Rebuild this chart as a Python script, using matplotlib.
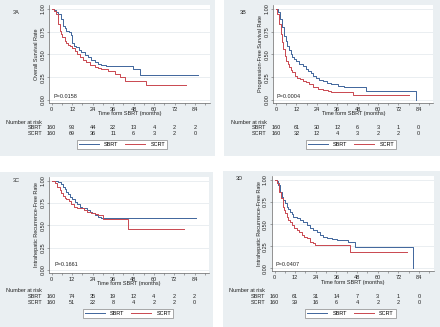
import matplotlib
matplotlib.use('Agg')
import matplotlib.pyplot as plt
from matplotlib.lines import Line2D
from matplotlib.patches import Rectangle
from matplotlib.ticker import MultipleLocator
from matplotlib.transforms import blended_transform_factory

plt.rcParams['font.family'] = ['Liberation Sans', 'DejaVu Sans']

# Kaplan-Meier curves (months, survival proportion)
# 3A overall survival
a_sbrt_t = [0, 1.5, 2.5, 3.7, 5.3, 6.6, 7.6, 8.6, 9.9, 11.1, 11.9, 13.1, 14.4, 15.8, 17.4,
            19.3, 21.3, 23.2, 25.2, 27.1, 29.1, 32.0, 35.0, 47.6, 51.5, 85.7]
a_sbrt_s = [1, .985, .965, .945, .89, .817, .79, .762, .744, .718, .623, .597, .579, .553, .531,
            .498, .469, .44, .414, .396, .385, .375, .37, .341, .278, .278]
a_scrt_t = [0, 1.5, 2.7, 3.7, 4.7, 5.3, 6.0, 6.6, 7.6, 8.6, 9.6, 10.5, 11.9, 13.5, 15.0, 16.4,
            18.3, 20.3, 22.2, 25.2, 27.1, 29.1, 33.0, 36.9, 39.8, 42.8, 55.4, 78.5]
a_scrt_s = [1, .98, .945, .835, .762, .725, .696, .689, .652, .623, .608, .597, .571, .542, .505, .469,
            .443, .414, .388, .359, .348, .341, .322, .286, .249, .205, .168, .168]

# 3B progression-free survival
b_sbrt_t = [0, 1.4, 2.4, 3.4, 3.7, 4.7, 5.7, 6.7, 7.7, 8.7, 9.7, 10.7, 12.0, 13.6, 15.6, 17.6,
            19.1, 20.5, 21.9, 23.5, 25.4, 27.4, 29.8, 32.3, 36.3, 40.2, 44.2, 53.1, 82.6]
b_sbrt_s = [1, .963, .89, .817, .799, .707, .652, .597, .549, .505, .476, .451, .425, .396, .37, .341,
            .322, .297, .267, .242, .223, .205, .19, .176, .158, .147, .139, .095, 0.0]
b_scrt_t = [0, 0.8, 1.8, 2.8, 3.7, 4.3, 5.1, 6.1, 6.9, 7.7, 8.7, 9.7, 11.0, 12.6, 14.0, 15.6,
            17.6, 19.5, 21.9, 24.5, 27.4, 30.4, 32.3, 45.2, 78.3]
b_scrt_s = [1, .945, .835, .725, .634, .56, .487, .432, .396, .359, .33, .304, .267, .242, .227, .212,
            .194, .176, .147, .121, .11, .095, .084, .059, .059]

# 3C intrahepatic recurrence-free
c_sbrt_t = [0, 1.7, 3.7, 5.3, 6.6, 7.6, 8.6, 9.6, 10.6, 11.9, 13.5, 15.1, 16.4, 17.8, 19.4, 20.9,
            22.3, 23.7, 25.3, 27.2, 29.2, 84.7]
c_sbrt_s = [1, .993, .981, .959, .933, .907, .877, .851, .822, .796, .766, .736, .71, .699, .691, .673,
            .654, .636, .617, .599, .58, .58]
c_scrt_t = [0, 2.1, 3.3, 4.7, 5.7, 6.6, 7.6, 8.6, 10.0, 11.5, 13.1, 15.1, 17.0, 19.0, 20.9, 22.9,
            25.3, 27.2, 30.2, 44.9, 78.0]
c_scrt_s = [1, .97, .933, .896, .859, .833, .81, .796, .773, .736, .71, .699, .691, .673, .654, .636,
            .625, .617, .572, .461, .461]

# 3D
d_sbrt_t = [0, 1.3, 2.2, 3.2, 4.2, 5.1, 6.1, 7.1, 8.0, 9.0, 10.0, 10.9, 12.9, 14.8, 16.8, 18.7,
            20.6, 22.6, 24.5, 26.5, 28.4, 30.3, 33.2, 36.1, 42.9, 46.8, 80.7]
d_sbrt_s = [1, .989, .943, .868, .811, .774, .736, .698, .672, .642, .611, .585, .574, .547, .521, .491,
            .46, .434, .408, .377, .355, .34, .328, .321, .302, .245, 0.0]
d_scrt_t = [0, 1.6, 2.8, 3.8, 4.7, 5.5, 6.1, 7.1, 8.0, 9.0, 10.0, 11.3, 12.9, 14.4, 15.8, 17.2,
            18.7, 20.6, 22.2, 23.5, 43.9, 76.8]
d_scrt_s = [1, .962, .868, .792, .698, .66, .623, .585, .547, .521, .491, .46, .434, .408, .377, .358,
            .34, .302, .283, .264, .189, .189]

# number at risk (at 0, 12, ..., 84 months)
risk_times = [0, 12, 24, 36, 48, 60, 72, 84]
a_risk_sbrt = [160, 93, 44, 22, 13, 4, 2, 2]
a_risk_scrt = [160, 69, 36, 11, 6, 3, 2, 0]
b_risk_sbrt = [160, 61, 30, 12, 6, 3, 1, 0]
b_risk_scrt = [160, 32, 12, 4, 3, 2, 2, 0]
c_risk_sbrt = [160, 74, 35, 19, 12, 4, 2, 2]
c_risk_scrt = [160, 51, 22, 8, 4, 2, 2, 0]
d_risk_sbrt = [160, 61, 31, 14, 7, 3, 1, 0]
d_risk_scrt = [160, 39, 16, 6, 4, 2, 2, 0]

tags = ['3A', '3B', '3C', '3D']
ylabels = ['Overall Survival Rate', 'Progression-Free Survival Rate',
           'Intrahepatic Recurrence-Free Rate', 'Intrahepatic Recurrence-Free Rate']
pvalues = ['P=0.0158', 'P=0.0004', 'P=0.1661', 'P=0.0407']
groups = ['SBRT', 'SCRT']

BLUE = '#3f659b'
RED = '#c9474f'
BG = '#eaeff2'
W, H = 440, 327

fig = plt.figure(figsize=(W / 100, H / 100), dpi=100, facecolor='white')


def fx(px):
    return px / W


def fy(py):
    return 1 - py / H


# layout in pixels: panel box, x of month 0, px per month, y of 1.0, px per unit,
# tag pos, pval pos, risk rows y, legend centre
panels = [
    dict(box=(0, 0, 215, 156), x0=51.7, sx=1.706, y1=9, sy=91, tag=(13, 13), pv=(1.3, 0.036),
         rows=(122.3, 127.7, 133.8), leg=(122, 144.5)),
    dict(box=(224, 0, 440, 156), x0=276, sx=1.70, y1=9, sy=91, tag=(240, 13), pv=(0.2, 0.036),
         rows=(122.3, 127.7, 133.8), leg=(351, 144.5)),
    dict(box=(0, 172, 213, 327), x0=51.7, sx=1.70, y1=180.7, sy=89.3, tag=(13, 180), pv=(1.8, 0.056),
         rows=(290.7, 296.3, 302.3), leg=(128, 313.5)),
    dict(box=(223, 171, 440, 327), x0=274.5, sx=1.72, y1=180, sy=88.3, tag=(236, 179), pv=(0.3, 0.04),
         rows=(290.7, 296.3, 302.3), leg=(350.5, 313.5)),
]

curves = [
    (a_sbrt_t, a_sbrt_s, a_scrt_t, a_scrt_s, a_risk_sbrt, a_risk_scrt),
    (b_sbrt_t, b_sbrt_s, b_scrt_t, b_scrt_s, b_risk_sbrt, b_risk_scrt),
    (c_sbrt_t, c_sbrt_s, c_scrt_t, c_scrt_s, c_risk_sbrt, c_risk_scrt),
    (d_sbrt_t, d_sbrt_s, d_scrt_t, d_scrt_s, d_risk_sbrt, d_risk_scrt),
]

XMIN, XMAX = -1.5, 92.5
YMIN, YMAX = -0.035, 1.045
FS = 4

# grey graph regions behind each panel
bg_ax = fig.add_axes([0, 0, 1, 1], zorder=-10)
bg_ax.set_xlim(0, W)
bg_ax.set_ylim(H, 0)
bg_ax.axis('off')
for p in panels:
    x1, y1, x2, y2 = p['box']
    bg_ax.add_patch(Rectangle((x1, y1), x2 - x1, y2 - y1, facecolor=BG, edgecolor='none'))

for i, p in enumerate(panels):
    left = p['x0'] + XMIN * p['sx']
    width = (XMAX - XMIN) * p['sx']
    top = p['y1'] - (YMAX - 1) * p['sy']
    height = (YMAX - YMIN) * p['sy']
    ax = fig.add_axes([fx(left), fy(top + height), width / W, height / H])
    ax.set_facecolor('white')

    st, ss, ct, cs, rs, rc = curves[i]
    ax.step(st, ss, where='post', color=BLUE, lw=0.7)
    ax.step(ct, cs, where='post', color=RED, lw=0.7)

    ax.set_xlim(XMIN, XMAX)
    ax.set_ylim(YMIN, YMAX)
    ax.set_xticks(risk_times)
    ax.xaxis.set_minor_locator(MultipleLocator(6))
    ax.set_yticks([0, 0.25, 0.5, 0.75, 1.0])
    ax.set_yticklabels(['0.00', '0.25', '0.50', '0.75', '1.00'], rotation=90, va='center')
    ax.grid(axis='y', color='#e2e8ec', lw=0.5)
    ax.set_axisbelow(True)
    for sp in ['top', 'right']:
        ax.spines[sp].set_visible(False)
    for sp in ['left', 'bottom']:
        ax.spines[sp].set_color('#666666')
        ax.spines[sp].set_linewidth(0.5)
    ax.tick_params(which='both', length=1.6, width=0.4, color='#666666',
                   labelsize=FS, pad=1.2, labelcolor='#222222')
    ax.set_xlabel('Time form SBRT (months)', fontsize=FS, labelpad=-0.5, color='#222222')
    ax.set_ylabel(ylabels[i], fontsize=FS, labelpad=1, color='#222222')

    ax.text(p['pv'][0], p['pv'][1], pvalues[i], fontsize=FS, ha='left', va='center', color='#222222')
    bg_ax.text(p['tag'][0], p['tag'][1], tags[i], fontsize=FS, ha='left', va='center',
               color='#222222')

    # number at risk table
    tr = blended_transform_factory(ax.transData, fig.transFigure)
    hy, sy_, cy = p['rows']
    ax.text(-5.5, fy(hy), 'Number at risk', transform=tr, fontsize=FS, ha='right', va='center',
            color='#222222', clip_on=False)
    for name, vals, ry in [(groups[0], rs, sy_), (groups[1], rc, cy)]:
        ax.text(-5.5, fy(ry), name, transform=tr, fontsize=FS, ha='right', va='center',
                color='#222222', clip_on=False)
        for t, v in zip(risk_times, vals):
            ax.text(t, fy(ry), str(v), transform=tr, fontsize=FS, ha='center', va='center',
                    color='#222222', clip_on=False)

    handles = [Line2D([], [], color=BLUE, lw=0.7), Line2D([], [], color=RED, lw=0.7)]
    leg = ax.legend(handles, groups, ncol=2, loc='center',
                    bbox_to_anchor=(fx(p['leg'][0]), fy(p['leg'][1])), bbox_transform=fig.transFigure,
                    fontsize=FS, frameon=True, fancybox=False, edgecolor='#888888', framealpha=1,
                    handlelength=3.6, columnspacing=1.3, handletextpad=0.9, borderpad=0.35,
                    borderaxespad=0)
    leg.get_frame().set_linewidth(0.5)

fig.savefig('out.png', dpi=100, facecolor='white')
